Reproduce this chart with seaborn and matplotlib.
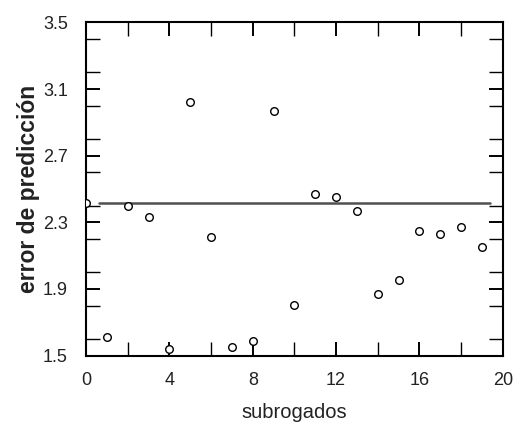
import matplotlib
matplotlib.use("Agg")
import matplotlib.pyplot as plt
import seaborn as sns
import pandas as pd
from matplotlib.ticker import MultipleLocator

# Data
subrogados = list(range(20))
error_prediccion = [2.414, 1.612, 2.396, 2.334, 1.540, 3.020, 2.212, 1.554, 1.588, 2.970,
                    1.804, 2.472, 2.454, 2.370, 1.870, 1.954, 2.248, 2.228, 2.270, 2.154]
reference_error = 2.418
reference_span = [0.6, 19.4]

x_ticks = [0, 4, 8, 12, 16, 20]
y_ticks = [1.5, 1.9, 2.3, 2.7, 3.1, 3.5]

sns.set_theme(style="ticks")
plt.rcParams['font.family'] = ['Liberation Sans', 'DejaVu Sans']

fig = plt.figure(figsize=(5.31, 4.40), dpi=100)
ax = fig.add_axes([0.162, 0.192, 0.785, 0.757])

df = pd.DataFrame({"subrogados": subrogados, "error": error_prediccion})
ref = pd.DataFrame({"x": reference_span, "y": [reference_error] * len(reference_span)})

sns.lineplot(data=ref, x="x", y="y", ax=ax, color="#505050", linewidth=1.8)
sns.scatterplot(data=df, x="subrogados", y="error", ax=ax, marker="o", s=30,
                facecolor="white", edgecolor="black", linewidth=1.0, zorder=3)

ax.set_xlim(0, 20)
ax.set_ylim(1.5, 3.5)
ax.set_xticks(x_ticks)
ax.set_yticks(y_ticks)
ax.set_xticklabels([str(t) for t in x_ticks])
ax.set_yticklabels([f"{t:.1f}" for t in y_ticks])
ax.xaxis.set_minor_locator(MultipleLocator(2))
ax.yaxis.set_minor_locator(MultipleLocator(0.2))
ax.tick_params(which="both", direction="in", top=True, right=True, color="black")
ax.tick_params(which="major", length=10, width=1.4, labelsize=13, labelcolor="#222222")
ax.tick_params(which="minor", length=10, width=1.0)
ax.tick_params(axis="x", which="major", pad=12)
ax.tick_params(axis="y", which="major", pad=13)

for sp in ax.spines.values():
    sp.set_visible(True)
    sp.set_color("black")
    sp.set_linewidth(1.5)

ax.set_xlabel("subrogados", fontsize=14.5, color="#222222", labelpad=10)
ax.set_ylabel("error de predicción", fontsize=16.5, fontweight="bold", color="#222222", labelpad=2)

fig.savefig("out.png", dpi=100)
